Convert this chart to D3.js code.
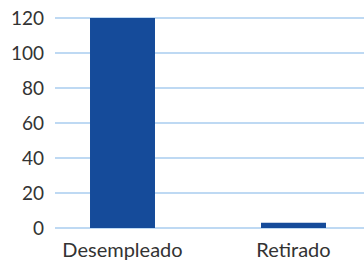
<!DOCTYPE html>
<html><head><meta charset="utf-8">
<script src="https://cdn.jsdelivr.net/npm/d3@7"></script>
<style>body{margin:0;background:#fff}svg{display:block}</style>
</head><body>
<script>
const categories = ["Desempleado", "Retirado"];
const values = [120, 3];
const yTicks = [0, 20, 40, 60, 80, 100, 120];

const W = 364, H = 264;
const svg = d3.select("body").append("svg").attr("width", W).attr("height", H);
const font = "Lato, 'Open Sans', sans-serif";

const x = d3.scaleBand().domain(categories).range([37, 379]).paddingInner(0.62).paddingOuter(0.31);
const y = d3.scaleLinear().domain([0, 120]).range([228, 18]);

// gridlines
svg.append("g").selectAll("line").data(yTicks).join("line")
  .attr("x1", 55).attr("x2", W)
  .attr("y1", d => y(d)).attr("y2", d => y(d))
  .attr("stroke", "#a8cdef").attr("stroke-width", 1.5);

// bars
svg.append("g").selectAll("rect").data(values).join("rect")
  .attr("x", (d, i) => x(categories[i]))
  .attr("width", x.bandwidth())
  .attr("y", d => y(d))
  .attr("height", d => y(0) - y(d))
  .attr("fill", "#154b9a");

// y labels
svg.append("g").selectAll("text").data(yTicks).join("text")
  .attr("x", 44).attr("y", d => y(d)).attr("dy", "0.36em")
  .attr("text-anchor", "end")
  .attr("font-family", font).attr("font-size", 19).attr("fill", "#333")
  .text(d => d);

// x labels
svg.append("g").selectAll("text").data(categories).join("text")
  .attr("x", d => x(d) + x.bandwidth() / 2).attr("y", 257)
  .attr("text-anchor", "middle")
  .attr("font-family", font).attr("font-size", 20).attr("fill", "#333")
  .text(d => d);
</script>
</body></html>
